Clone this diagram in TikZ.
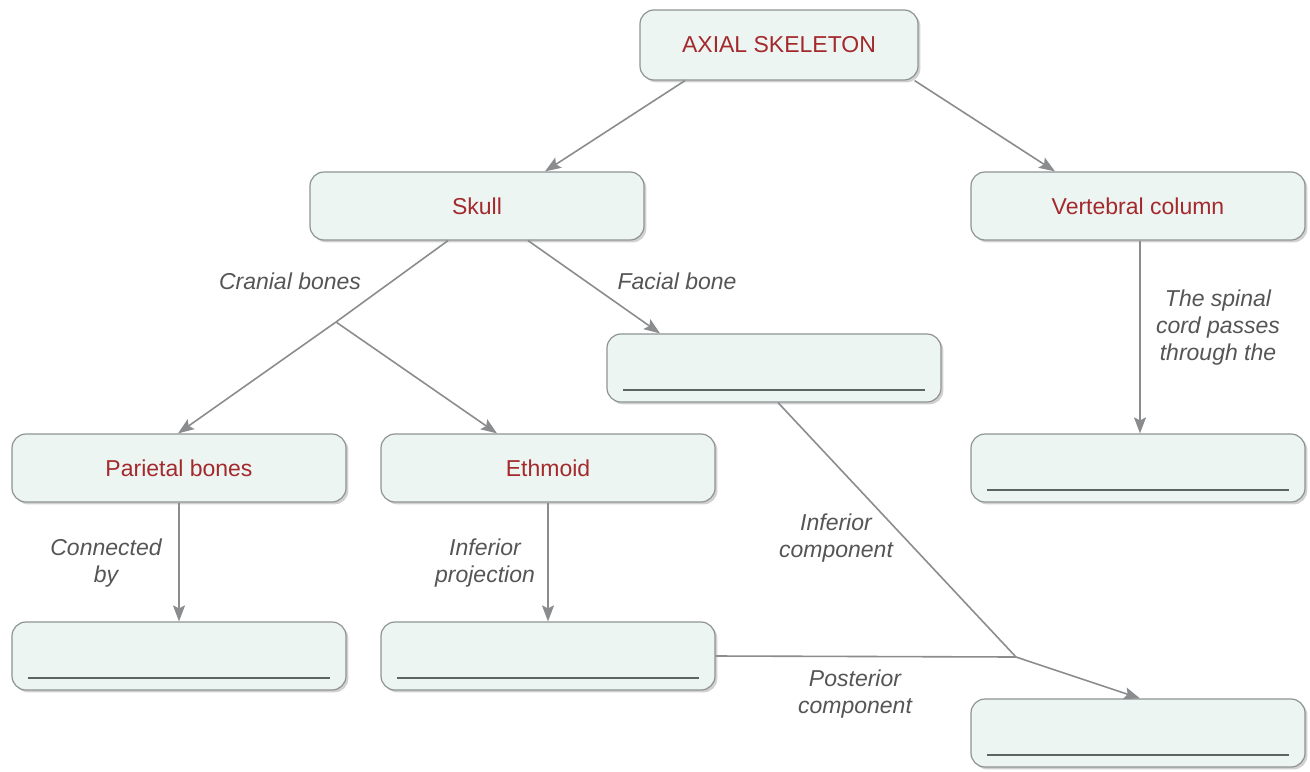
\documentclass[tikz,border=0pt]{standalone}
\usepackage{fontspec}
\setmainfont{Liberation Sans}
\usetikzlibrary{arrows.meta,calc,shadows}
\definecolor{boxfill}{HTML}{EDF5F3}
\definecolor{boxdraw}{HTML}{8E9394}
\definecolor{titlered}{HTML}{A3292C}
\definecolor{lblgray}{HTML}{555555}
\definecolor{arrgray}{HTML}{8A8C8E}
\definecolor{linegray}{HTML}{5E6364}
\tikzset{
  cbox/.style={draw=boxdraw, line width=0.6pt, fill=boxfill, rounded corners=7pt,
    minimum width=167pt, minimum height=34pt, inner sep=0pt,
    font=\fontsize{11.5}{13}\selectfont, text=titlered,
    drop shadow={shadow xshift=1.2pt, shadow yshift=-1.2pt, opacity=0.18, fill=black}},
  lbl/.style={font=\fontsize{11.5}{13.5}\selectfont\itshape, text=lblgray, align=center, inner sep=0pt},
  conn/.style={draw=arrgray, line width=0.8pt},
  arr/.style={conn, -{Stealth[length=8pt,width=6pt,inset=1.5pt]}},
  blank/.style={draw=linegray, line width=1pt}
}
\begin{document}
\begin{tikzpicture}[x=0.5pt,y=-0.5pt]
\useasboundingbox (0,0) rectangle (1310,771);
% boxes
\node[cbox, minimum width=139pt, minimum height=35pt] (ax) at (779,45) {AXIAL SKELETON};
\node[cbox] (skull) at (477,206) {Skull};
\node[cbox] (vert) at (1138,206) {Vertebral column};
\node[cbox] (facial) at (774,368) {};
\node[cbox] (par) at (179,468) {Parietal bones};
\node[cbox] (eth) at (548,468) {Ethmoid};
\node[cbox] (vblank) at (1138,468) {};
\node[cbox] (pblank) at (179,656) {};
\node[cbox] (eblank) at (548,656) {};
\node[cbox] (brblank) at (1138,733) {};
% blank lines
\foreach \n in {facial,vblank,pblank,eblank,brblank}{
  \draw[blank] ([xshift=8.5pt,yshift=6.5pt]\n.south west) -- ([xshift=-8.5pt,yshift=6.5pt]\n.south east);
}
% junctions
\coordinate (j1) at (336,322);
\coordinate (j2) at (1016,657);
% connectors
\draw[arr] ($(ax.south)+(-94,0)$) -- ($(skull.north)+(68,0)$);
\draw[arr] ($(ax.south east)+(-4,0)$) -- ($(vert.north)+(-83,0)$);
\draw[conn] ($(skull.south)+(-29,0)$) -- (j1);
\draw[arr] (j1) -- ($(par.north)+(-1,0)$);
\draw[arr] (j1) -- ($(eth.north)+(-51,0)$);
\draw[arr] ($(skull.south)+(51,0)$) -- ($(facial.north)+(-114,0)$);
\draw[arr] ($(vert.south)+(2,0)$) -- ($(vblank.north)+(2,0)$);
\draw[arr] (par.south) -- (pblank.north);
\draw[arr] (eth.south) -- (eblank.north);
\draw[conn] ($(facial.south)+(4,0)$) -- (j2);
\draw[conn] (eblank.east) -- (j2);
\draw[arr] (j2) -- ($(brblank.north)+(2,0)$);
% labels
\node[lbl] (l1) at (290,281) {Cranial bones};
\node[lbl] (l2) at (677,281) {Facial bone};
\node[lbl] (l3) at (1218,328) {The spinal\\cord passes\\through the};
\node[lbl] (l4) at (106,563) {Connected\\by};
\node[lbl] (l5) at (485,563) {Inferior\\projection};
\node[lbl] (l6) at (836,538) {Inferior\\component};
\node[lbl] (l7) at (855,694) {Posterior\\component};
\end{tikzpicture}
\end{document}
